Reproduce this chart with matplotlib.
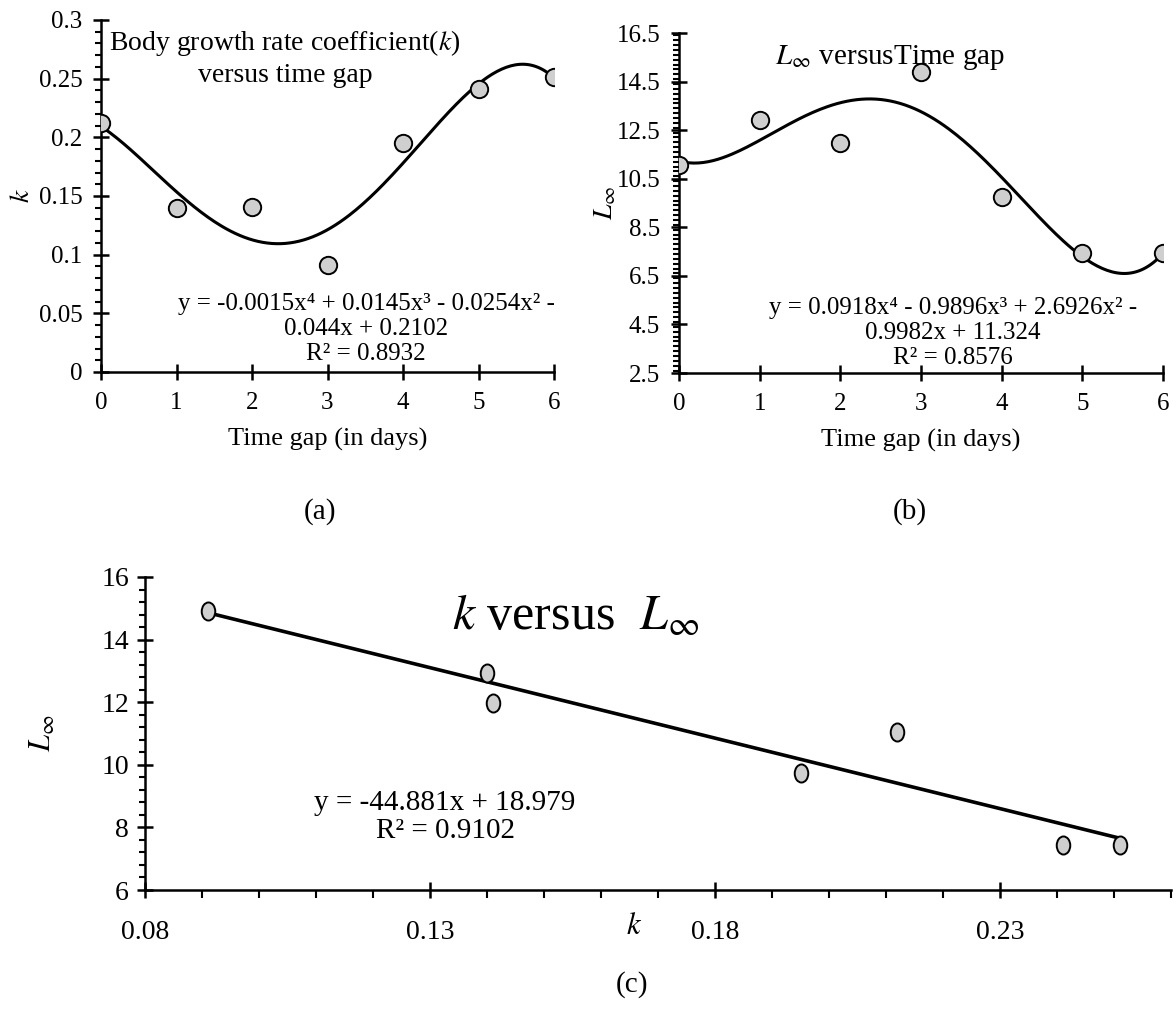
import numpy as np
import matplotlib
matplotlib.use("Agg")
import matplotlib.pyplot as plt
from matplotlib.ticker import MultipleLocator, FixedLocator
from matplotlib.markers import MarkerStyle
from matplotlib.transforms import Affine2D

plt.rcParams['font.family'] = ['Liberation Serif', 'DejaVu Serif']
plt.rcParams['mathtext.fontset'] = 'stix'

# data
days = [0, 1, 2, 3, 4, 5, 6]
k_vals = [0.212, 0.140, 0.141, 0.091, 0.195, 0.241, 0.251]
linf_vals = [11.06, 12.92, 11.96, 14.91, 9.75, 7.44, 7.43]

k_ticks = [0, 0.05, 0.1, 0.15, 0.2, 0.25, 0.3]
k_ticklabels = ['0', '0.05', '0.1', '0.15', '0.2', '0.25', '0.3']
linf_ticks = [2.5, 4.5, 6.5, 8.5, 10.5, 12.5, 14.5, 16.5]
kx_ticks = [0.08, 0.13, 0.18, 0.23]

eq_a = "y = -0.0015x\u2074 + 0.0145x\u00b3 - 0.0254x\u00b2 -\n0.044x + 0.2102\nR\u00b2 = 0.8932"
eq_b = "y = 0.0918x\u2074 - 0.9896x\u00b3 + 2.6926x\u00b2 -\n0.9982x + 11.324\nR\u00b2 = 0.8576"
eq_c = "y = -44.881x + 18.979\nR\u00b2 = 0.9102"

W, H = 1176, 1010
fig = plt.figure(figsize=(W / 100, H / 100), dpi=100)


def px_axes(l, t, r, b):
    return fig.add_axes([l / W, 1 - b / H, (r - l) / W, (b - t) / H])


def style(ax, size=18):
    for s in ['top', 'right']:
        ax.spines[s].set_visible(False)
    for s in ['left', 'bottom']:
        ax.spines[s].set_linewidth(1.8)
    ax.tick_params(which='major', direction='inout', length=11, width=1.8, labelsize=size)
    ax.tick_params(which='minor', direction='out', length=4, width=1.5)
    ax.tick_params(axis='y', pad=8)


mk = dict(marker='o', ms=12.5, mfc='#cfcfcf', mec='black', mew=1.4, ls='none', zorder=3)

# (a) k versus time gap
ax1 = px_axes(101, 20, 554, 372)
style(ax1)
ax1.set_xlim(0, 6)
ax1.set_ylim(0, 0.3)
ax1.xaxis.set_major_locator(MultipleLocator(1))
ax1.yaxis.set_major_locator(FixedLocator(k_ticks))
ax1.set_yticklabels(k_ticklabels)
ax1.yaxis.set_minor_locator(MultipleLocator(0.01))
ax1.tick_params(axis='x', pad=9)
ax1.tick_params(axis='x', which='minor', bottom=False)
xs = np.linspace(0, 6, 200)
ax1.plot(xs, np.polyval(np.polyfit(days, k_vals, 4), xs), color='black', lw=2.2, zorder=2)
ax1.plot(days, k_vals, **mk)
ax1.set_xlabel('Time gap (in days)', fontsize=19, labelpad=10)
ax1.set_ylabel('$k$', fontsize=20)
ax1.yaxis.set_label_coords(-0.145, 0.5)
fig.text(285 / W, 1 - 58 / H, 'Body growth rate coefficient($k$)\nversus time gap',
         ha='center', va='center', fontsize=20, linespacing=1.3)
fig.text(366 / W, 1 - 329 / H, eq_a, ha='center', va='center', fontsize=18, linespacing=1.15)
fig.text(320 / W, 1 - 512 / H, '(a)', ha='center', va='center', fontsize=21)

# (b) L_inf versus time gap
ax2 = px_axes(679, 33, 1163, 373)
style(ax2)
ax2.set_xlim(0, 6)
ax2.set_ylim(2.5, 16.5)
ax2.xaxis.set_major_locator(MultipleLocator(1))
ax2.yaxis.set_major_locator(FixedLocator(linf_ticks))
ax2.yaxis.set_minor_locator(MultipleLocator(0.2))
ax2.tick_params(axis='x', pad=9)
ax2.tick_params(axis='x', which='minor', bottom=False)
ax2.plot(xs, np.polyval(np.polyfit(days, linf_vals, 4), xs), color='black', lw=2.2, zorder=2)
ax2.plot(days, linf_vals, **mk)
ax2.set_xlabel('Time gap (in days)', fontsize=19, labelpad=10)
ax2.set_ylabel('$L_{\\infty}$', fontsize=20)
ax2.yaxis.set_label_coords(-0.125, 0.5)
fig.text(890 / W, 1 - 57 / H, '$L_{\\infty}$ versusTime gap', ha='center', va='center', fontsize=21)
fig.text(953 / W, 1 - 333 / H, eq_b, ha='center', va='center', fontsize=18, linespacing=1.15)
fig.text(910 / W, 1 - 512 / H, '(b)', ha='center', va='center', fontsize=21)

# (c) L_inf versus k
ax3 = px_axes(145, 577, 1171, 890)
style(ax3, size=20)
ax3.set_xlim(0.08, 0.26)
ax3.set_ylim(6, 16)
ax3.xaxis.set_major_locator(FixedLocator(kx_ticks))
ax3.xaxis.set_minor_locator(MultipleLocator(0.01))
ax3.yaxis.set_major_locator(MultipleLocator(2))
ax3.yaxis.set_minor_locator(MultipleLocator(0.4))
ax3.tick_params(axis='x', which='minor', length=6)
ax3.tick_params(axis='x', pad=16)
ax3.tick_params(axis='y', pad=6)
kk = np.linspace(min(k_vals), max(k_vals), 50)
ax3.plot(kk, np.polyval(np.polyfit(k_vals, linf_vals, 1), kk), color='black', lw=2.6, zorder=2)
oval = MarkerStyle('o', transform=Affine2D().scale(0.75, 1.0))
ax3.plot(k_vals, linf_vals, marker=oval, ms=13, mfc='#cfcfcf', mec='black', mew=1.4,
         ls='none', zorder=3)
ax3.set_xlabel('$k$', fontsize=22)
ax3.xaxis.set_label_coords(0.477, -0.07)
ax3.xaxis.label.set_va('top')
ax3.set_ylabel('$L_{\\infty}$', fontsize=22)
ax3.yaxis.set_label_coords(-0.085, 0.5)
fig.text(576 / W, 1 - 617 / H, '$k$ versus  $L_{\\infty}$', ha='center', va='center', fontsize=36)
fig.text(445 / W, 1 - 817 / H, eq_c, ha='center', va='center', fontsize=21, linespacing=1.05)
fig.text(632 / W, 1 - 985 / H, '(c)', ha='center', va='center', fontsize=21)

fig.savefig('out.png', dpi=100)
